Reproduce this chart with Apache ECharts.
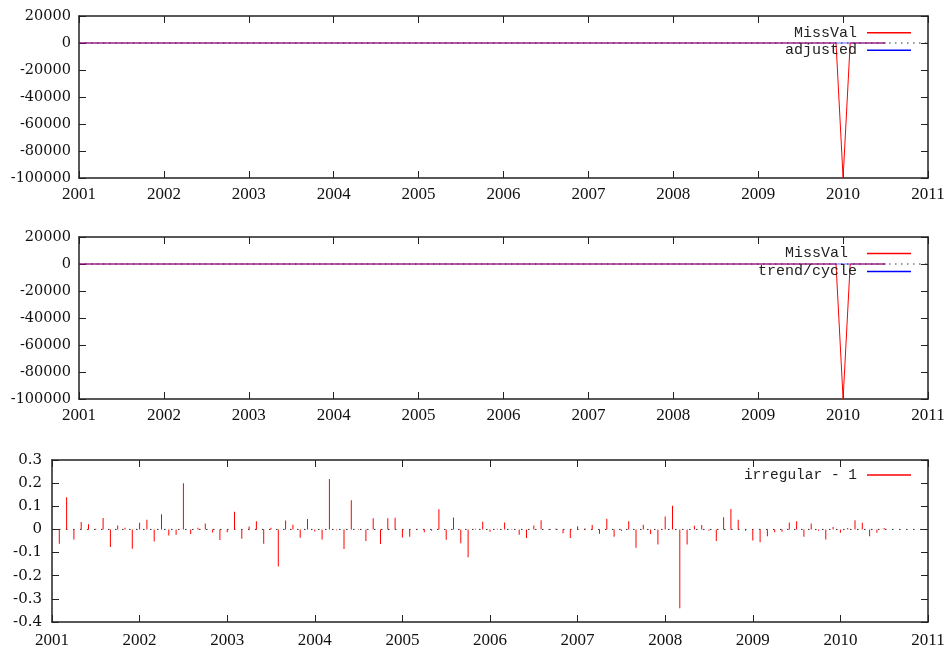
<!DOCTYPE html>
<html><head><meta charset="utf-8">
<script src="https://cdn.jsdelivr.net/npm/echarts@6/dist/echarts.min.js"></script>
<style>html,body{margin:0;padding:0;background:#fff}#c{width:952px;height:653px}</style>
</head><body><div id="c"></div>
<script>
// monthly observations, Jan 2001 .. Jul 2010
var startYear = 2001;
var xTicks = [2001, 2011, 1];
var missVal = [
 0,0,0,0,0,0,0,0,0,0,0,0,
 0,0,0,0,0,0,0,0,0,0,0,0,
 0,0,0,0,0,0,0,0,0,0,0,0,
 0,0,0,0,0,0,0,0,0,0,0,0,
 0,0,0,0,0,0,0,0,0,0,0,0,
 0,0,0,0,0,0,0,0,0,0,0,0,
 0,0,0,0,0,0,0,0,0,0,0,0,
 0,0,0,0,0,0,0,0,0,0,0,0,
 0,0,0,0,0,0,0,0,0,0,0,0,
 -100000,0,0,0,0,0,0
];
var adjusted = [
 0,0,0,0,0,0,0,0,0,0,0,0,
 0,0,0,0,0,0,0,0,0,0,0,0,
 0,0,0,0,0,0,0,0,0,0,0,0,
 0,0,0,0,0,0,0,0,0,0,0,0,
 0,0,0,0,0,0,0,0,0,0,0,0,
 0,0,0,0,0,0,0,0,0,0,0,0,
 0,0,0,0,0,0,0,0,0,0,0,0,
 0,0,0,0,0,0,0,0,0,0,0,0,
 0,0,0,0,0,0,0,0,0,0,0,0,
 0,0,0,0,0,0,0
];
var trendCycle = [
 0,0,0,0,0,0,0,0,0,0,0,0,
 0,0,0,0,0,0,0,0,0,0,0,0,
 0,0,0,0,0,0,0,0,0,0,0,0,
 0,0,0,0,0,0,0,0,0,0,0,0,
 0,0,0,0,0,0,0,0,0,0,0,0,
 0,0,0,0,0,0,0,0,0,0,0,0,
 0,0,0,0,0,0,0,0,0,0,0,0,
 0,0,0,0,0,0,0,0,0,0,0,0,
 0,0,0,0,0,0,0,0,0,0,0,0,
 0,0,0,0,0,0,0
];
var irregular = [
 0,-0.062,0.139,-0.043,0.032,0.022,0.003,0.049,-0.076,0.017,0.007,-0.084,
 0.029,0.042,-0.052,0.066,-0.026,-0.023,0.199,-0.020,0.007,0.026,-0.013,-0.046,
 -0.012,0.076,-0.040,0.013,0.035,-0.062,0.007,-0.160,0.039,0.020,-0.036,0.045,
 -0.009,-0.043,0.218,-0.004,-0.085,0.126,0.002,-0.050,0.048,-0.063,0.048,0.051,
 -0.035,-0.032,-0.003,-0.012,-0.006,0.087,-0.045,0.052,-0.060,-0.120,0.003,0.033,
 -0.010,0.003,0.030,0.002,-0.023,-0.037,0.017,0.040,-0.003,0.003,-0.016,-0.037,
 0.014,0.004,0.019,-0.019,0.046,-0.032,-0.007,0.035,-0.079,0.020,-0.020,-0.065,
 0.056,0.102,-0.341,-0.065,0.016,0.019,-0.006,-0.050,0.053,0.088,0.042,-0.006,
 -0.048,-0.055,-0.029,-0.012,-0.010,0.030,0.035,-0.032,0.026,-0.006,-0.043,0.010,
 -0.014,0.006,0.040,0.029,-0.029,-0.014,0.006
];
var yTicksLevel = [-100000, 20000, 20000];
var yTicksIrr = [-0.4, 0.3, 0.1];

function pairs(arr){ return arr.map(function(v,i){ return [startYear + i/12, v]; }); }

var AX = '#222';
function xAxes(g, font, size, margin){
  var base = {type:'value', gridIndex:g, min:xTicks[0], max:xTicks[1], interval:xTicks[2],
    splitLine:{show:false},
    axisLine:{onZero:false, lineStyle:{color:AX, width:1.5}},
    axisTick:{inside:true, length:7, lineStyle:{color:AX, width:1}}};
  var b = Object.assign({}, base, {position:'bottom',
    axisLabel:{fontFamily:font, fontSize:size, color:'#111', margin:margin, showMinLabel:true, showMaxLabel:true,
      formatter:function(v){return String(Math.round(v));}}});
  var t = Object.assign({}, base, {position:'top', axisLabel:{show:false}});
  return [b,t];
}
function yAxes(g, ticks, font, size, margin){
  var base = {type:'value', gridIndex:g, min:ticks[0], max:ticks[1], interval:ticks[2],
    splitLine:{show:false},
    axisLine:{onZero:false, lineStyle:{color:AX, width:1.5}},
    axisTick:{inside:true, length:7, lineStyle:{color:AX, width:1}}};
  var l = Object.assign({}, base, {position:'left',
    axisLabel:{fontFamily:font, fontSize:size, color:'#111', margin:margin,
      formatter:function(v){ var r = Math.round(v*10)/10; return String(r); }}});
  var r = Object.assign({}, base, {position:'right', axisLabel:{show:false}});
  return [l,r];
}

var xA = [].concat(xAxes(0,'Liberation Serif',17,8), xAxes(1,'Liberation Serif',17,8), xAxes(2,'Liberation Serif',17,10));
var yA = [].concat(yAxes(0,yTicksLevel,'DejaVu Serif',14.5,8), yAxes(1,yTicksLevel,'DejaVu Serif',14.5,8), yAxes(2,yTicksIrr,'DejaVu Serif',15,10));

function zeroLine(g, dash){
  return {type:'line', name:'zero'+g, xAxisIndex:2*g, yAxisIndex:2*g, data:[[xTicks[0],0],[xTicks[1],0]],
    symbol:'none', silent:true, z:1, lineStyle:{color:'#333', width:1, type:dash}};
}
function lineSeries(g, name, arr, color, opacity, z){
  return {type:'line', name:name, xAxisIndex:2*g, yAxisIndex:2*g, data:pairs(arr),
    symbol:'none', z:z, itemStyle:{color:color}, lineStyle:{color:color, width:1, opacity:opacity}};
}

var legendCommon = {orient:'vertical', align:'right', right:41, itemWidth:44, itemHeight:1.5, icon:'rect',
  itemGap:0, selectedMode:false, padding:0,
  textStyle:{fontFamily:'Liberation Mono', fontSize:15, color:'#222', padding:[0,5,0,0]}};

var option = {
  animation:false,
  backgroundColor:'#fff',
  grid:[
    {left:79, right:24, top:16, height:162},
    {left:79, right:24, top:237, height:162},
    {left:52, right:24, top:460, height:162}
  ],
  legend:[
    Object.assign({}, legendCommon, {top:24, data:['MissVal','adjusted'], textStyle:Object.assign({}, legendCommon.textStyle,{lineHeight:17.5})}),
    Object.assign({}, legendCommon, {top:244.5, data:['MissVal ','trend/cycle'], textStyle:Object.assign({}, legendCommon.textStyle,{lineHeight:18})}),
    Object.assign({}, legendCommon, {top:466, data:['irregular - 1'], textStyle:Object.assign({}, legendCommon.textStyle,{fontSize:14.5, lineHeight:18})})
  ],
  xAxis: xA,
  yAxis: yA,
  series:[
    zeroLine(0,[1.5,4.5]),
    lineSeries(0,'MissVal',missVal,'#ff0000',1,2),
    lineSeries(0,'adjusted',adjusted,'#0000ff',0.6,3),
    zeroLine(1,[1.5,4.5]),
    lineSeries(1,'MissVal ',missVal,'#ff0000',1,2),
    lineSeries(1,'trend/cycle',trendCycle,'#0000ff',0.6,3),
    zeroLine(2,[1.5,5.5]),
    {type:'bar', name:'irregular - 1', xAxisIndex:4, yAxisIndex:4, data:pairs(irregular),
      barWidth:1, z:2, itemStyle:{color:'#ff0000'}}
  ]
};
var chart = echarts.init(document.getElementById('c'), null, {renderer:'canvas'});
chart.setOption(option);
</script></body></html>
